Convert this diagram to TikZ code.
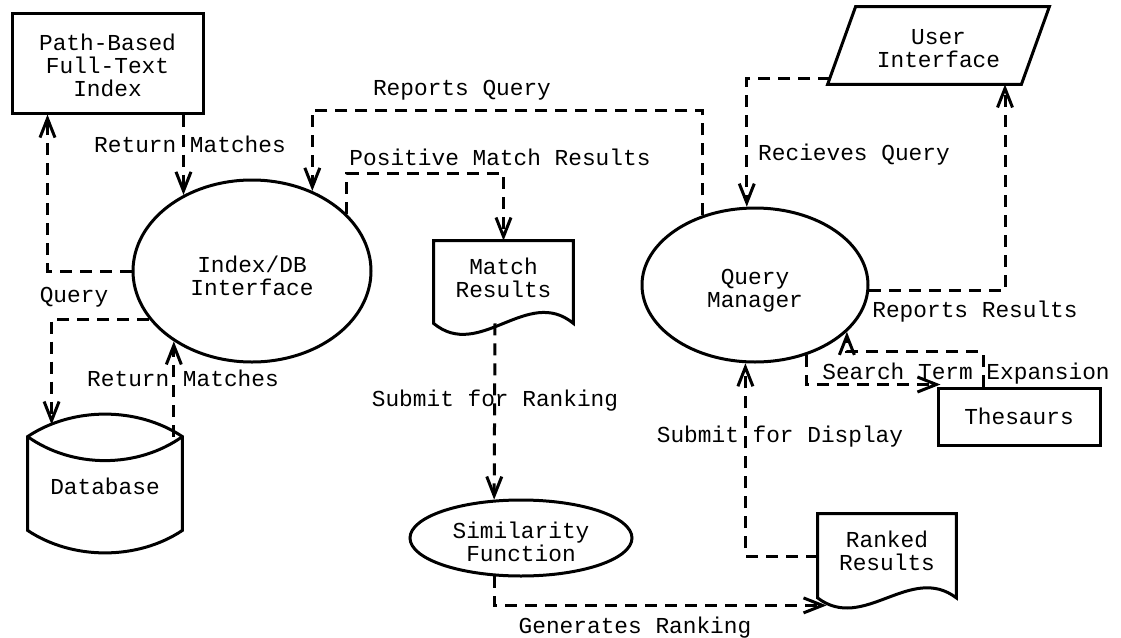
\documentclass[tikz,border=0pt]{standalone}
\usepackage{fontspec}
\setmonofont{Liberation Mono}
\usetikzlibrary{shapes.geometric,arrows.meta}

\begin{document}
\begin{tikzpicture}[x=0.5pt,y=-0.5pt,
    every node/.style={font=\ttfamily\fontsize{11.4}{11.5}\selectfont, align=center, inner sep=0pt},
    boxline/.style={draw, line width=1.5pt},
    proc/.style={ellipse, boxline},
    store/.style={rectangle, boxline},
    frame/.style={rectangle},
    flow/.style={line width=1.5pt, dash pattern=on 6pt off 4pt, -{Straight Barb[length=9.5pt,width=7.5pt]}},
    lbl/.style={text height=6.5pt, text depth=0pt}
]
    \useasboundingbox (0,0) rectangle (1121,638);

    % processes and stores
    \node[store, minimum width=95.5pt, minimum height=50pt,
          label={[yshift=-1pt]center:{Path-Based\\Full-Text\\Index}}] (pbi) at (107.5,63) {};
    \node[proc, minimum width=119pt, minimum height=91pt,
          label={[yshift=-2.25pt]center:{Index/DB\\Interface}}] (idx) at (252,271) {};
    \node[proc, minimum width=113pt, minimum height=77pt,
          label={[yshift=-3pt]center:{Query\\Manager}}] (qm) at (755,285) {};
    \node[proc, minimum width=111pt, minimum height=38pt,
          label={[yshift=-2pt]center:{Similarity\\Function}}] (sim) at (521,538) {};
    \node[store, minimum width=81pt, minimum height=28.5pt] (thes) at (1019,416.5) {Thesaurs};

    % user interface (slanted box)
    \node[frame, minimum width=96.5pt, minimum height=38.5pt,
          label={[yshift=-1.5pt]center:{User\\Interface}}] (ui) at (938.5,45.5) {};
    \draw[boxline] ([xshift=-7pt]ui.south west) -- ([xshift=-7pt]ui.south east)
        -- ([xshift=7pt]ui.north east) -- ([xshift=7pt]ui.north west) -- cycle;

    % database drum
    \node[frame, minimum width=77pt, minimum height=46.5pt,
          label={[yshift=-1.5pt]center:Database}] (db) at (105,483.5) {};
    \draw[boxline] (db.north west) .. controls +(45,-30) and +(-45,-30) .. (db.north east)
        -- (db.south east) .. controls +(-45,30) and +(45,30) .. (db.south west) -- cycle;
    \draw[boxline] (db.north west) .. controls +(45,32) and +(-45,32) .. (db.north east);

    % documents with wavy bottom
    \node[frame, minimum width=69.5pt, minimum height=36.5pt] (match) at (503.5,277.5) {Match\\Results};
    \draw[boxline] ([yshift=-4.5pt]match.south east) .. controls +(-46,-38) and +(46,38) .. ([yshift=-4.5pt]match.south west)
        -- (match.north west) -- (match.north east) -- cycle;
    \node[frame, minimum width=69pt, minimum height=36.5pt] (ranked) at (887,550.5) {Ranked\\Results};
    \draw[boxline] ([yshift=-5.25pt]ranked.south east) .. controls +(-46,-35) and +(46,35) .. ([yshift=-5.25pt]ranked.south west)
        -- (ranked.north west) -- (ranked.north east) -- cycle;

    % data flows
    \draw[flow] (idx.west) -| ([xshift=18.5pt]pbi.south west);
    \draw[flow] (pbi.south -| idx.132) -- (idx.132);
    \draw[flow] (qm.127) -- ++(0,-105) -| (idx.53);
    \draw[flow] (idx.31) -- ++(0,-40) -| (match.north);
    \draw[flow] (idx.205) -| ([xshift=12pt,yshift=6pt]db.north west);
    \draw[flow] (idx.222 |- db.north east) -- (idx.222);
    \draw[flow] ([xshift=-4.25pt,yshift=-4.5pt]match.south) -- (sim.125);
    \draw[flow] (sim.235) |- ([xshift=4.5pt,yshift=-9pt]ranked.south west);
    \draw[flow] ([yshift=-2.75pt]ranked.west) -| (qm.263);
    \draw[flow] (qm.357) -| ([xshift=33.25pt]ui.south);
    \draw[flow] ([xshift=-54.25pt,yshift=3pt]ui.south) -| (qm.96);
    \draw[flow] (qm.306) |- ([xshift=2pt,yshift=1pt]thes.north west);
    \draw[flow] ([xshift=-18pt]thes.north) -- ++(0,-35) -| (qm.333);

    % flow labels
    \node[lbl] (rm1) at (190,146) {Return Matches};
    \node[lbl] (q1) at (74,296) {Query};
    \node[lbl] (rm2) at (183,380) {Return Matches};
    \node[lbl] (rq) at (462,89) {Reports Query};
    \node[lbl] (pmr) at (500,159) {Positive Match Results};
    \node[lbl] (sfr) at (495,400) {Submit for Ranking};
    \node[lbl] (gr) at (635,627) {Generates Ranking};
    \node[lbl] (sfd) at (780,436) {Submit for Display};
    \node[lbl] (rcq) at (854,154) {Recieves Query};
    \node[lbl] (rr) at (975,311) {Reports Results};
    \node[lbl] (ste) at (966,373) {Search Term Expansion};
\end{tikzpicture}
\end{document}
